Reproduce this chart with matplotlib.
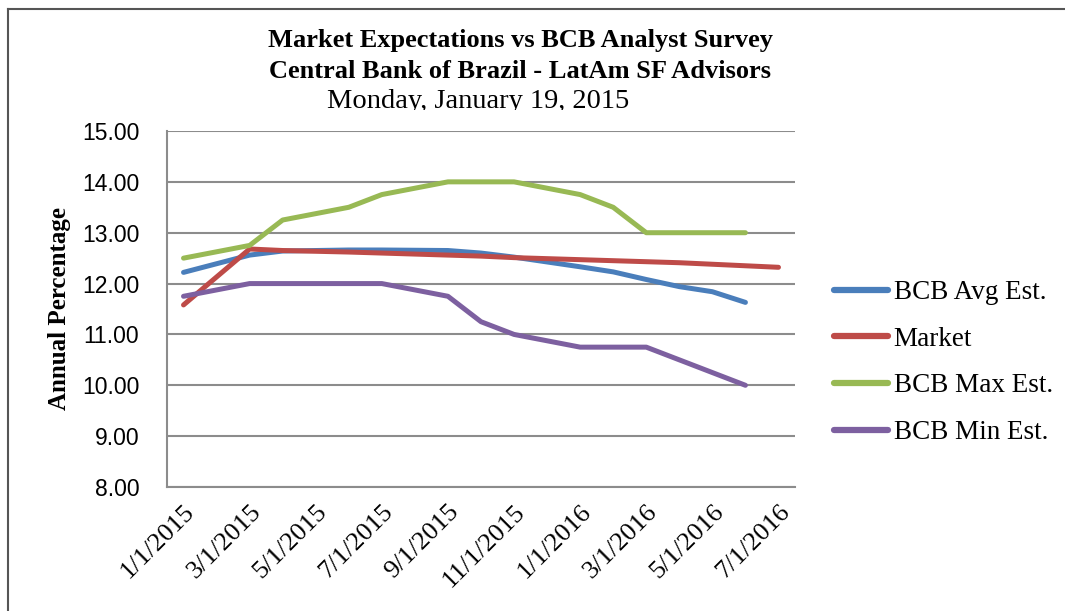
import numpy as np
import pandas as pd
import matplotlib
matplotlib.use('Agg')
import matplotlib.pyplot as plt
from matplotlib.lines import Line2D
from matplotlib.transforms import Bbox

# survey / market data, one point per Copom month
dates = ['1/1/2015', '3/1/2015', '4/1/2015', '6/1/2015', '7/1/2015', '9/1/2015',
         '10/1/2015', '11/1/2015', '1/1/2016', '2/1/2016', '3/1/2016', '4/1/2016',
         '5/1/2016', '6/1/2016', '7/1/2016']
bcb_avg = [12.22, 12.56, 12.64, 12.66, 12.66, 12.65, 12.60, 12.52, 12.33, 12.23,
           12.08, 11.94, 11.84, 11.63, np.nan]
market = [11.58, 12.68, 12.65, 12.62, 12.60, 12.56, 12.54, 12.51, 12.47, 12.45,
          12.43, 12.41, 12.38, 12.35, 12.32]
bcb_max = [12.50, 12.75, 13.25, 13.50, 13.75, 14.00, 14.00, 14.00, 13.75, 13.50,
           13.00, 13.00, 13.00, 13.00, np.nan]
bcb_min = [11.75, 12.00, 12.00, 12.00, 12.00, 11.75, 11.25, 11.00, 10.75, 10.75,
           10.75, 10.50, 10.25, 10.00, np.nan]

tick_dates = ['1/1/2015', '3/1/2015', '5/1/2015', '7/1/2015', '9/1/2015',
              '11/1/2015', '1/1/2016', '3/1/2016', '5/1/2016', '7/1/2016']

series = [('BCB Avg Est.', bcb_avg, '#4A7EBB'),
          ('Market', market, '#BE4B48'),
          ('BCB Max Est.', bcb_max, '#98B954'),
          ('BCB Min Est.', bcb_min, '#7D60A0')]

serif = 'Liberation Serif'
sans = 'Liberation Sans'

# month axis (Excel date axis with base unit = months)
start = pd.Timestamp('2015-01-01')
def month_idx(d):
    t = pd.Timestamp(d)
    return (t.year - start.year) * 12 + t.month - start.month

x = np.array([month_idx(d) for d in dates])
xt = [month_idx(d) for d in tick_dates]

fig = plt.figure(figsize=(10.65, 6.11), dpi=100)
W, H = 1065, 611
ax = fig.add_axes([167 / W, 1 - 487 / H, (795 - 167) / W, (487 - 131) / H])

for name, vals, col in series:
    v = np.array(vals, dtype=float)
    m = ~np.isnan(v)
    ax.plot(x[m], v[m], color=col, lw=3.6, solid_capstyle='round',
            solid_joinstyle='round', label=name)

ax.set_xlim(-0.5, 18.5)
ax.set_ylim(8, 15)
ax.set_yticks(np.arange(8, 15.01, 1))
ax.set_yticklabels(['%.2f' % v for v in np.arange(8, 15.01, 1)],
                   fontfamily=sans, fontsize=16.5)
ax.set_xticks(xt)
ax.set_xticklabels(tick_dates, rotation=45, ha='right', va='top',
                   rotation_mode='anchor', fontfamily=serif, fontsize=19)
ax.tick_params(axis='y', length=0, pad=20)
ax.tick_params(axis='x', length=0, pad=10)
ax.yaxis.grid(True, color='#8C8C8C', lw=1.5)
ax.set_axisbelow(True)
for s in ['top', 'right']:
    ax.spines[s].set_visible(False)
for s in ['left', 'bottom']:
    ax.spines[s].set_color('#8C8C8C')
    ax.spines[s].set_linewidth(1.5)

ax.set_ylabel('Annual Percentage', fontfamily=serif, fontsize=18, fontweight='bold')
ax.yaxis.set_label_coords(-0.153, 0.5)

fig.text(520 / W, 1 - 40 / H, 'Market Expectations vs BCB Analyst Survey',
         ha='center', va='center', fontfamily=serif, fontsize=19, fontweight='bold')
fig.text(520 / W, 1 - 72 / H, 'Central Bank of Brazil - LatAm SF Advisors',
         ha='center', va='center', fontfamily=serif, fontsize=19, fontweight='bold')
sub = fig.text(478 / W, 1 - 101 / H, 'Monday, January 19, 2015',
               ha='center', va='center', fontfamily=serif, fontsize=20.5)
sub.set_clip_box(Bbox.from_extents(0, H - 110, W, H))
sub.set_clip_on(True)

handles = [Line2D([], [], color=c, lw=4.5, solid_capstyle='round') for _, _, c in series]
fig.legend(handles, [n for n, _, _ in series], loc='center left',
           bbox_to_anchor=(834 / W, 1 - 362.5 / H), frameon=False,
           prop={'family': serif, 'size': 19.5}, handlelength=2.0,
           handletextpad=0.2, labelspacing=0.8, borderpad=0, borderaxespad=0)

# outer chart frame
fig.add_artist(Line2D([8 / W, 8 / W], [0, 1 - 9 / H], color='#555555', lw=1.5))
fig.add_artist(Line2D([8 / W, 1], [1 - 9 / H, 1 - 9 / H], color='#555555', lw=1.5))

fig.savefig('out.png', dpi=100)
